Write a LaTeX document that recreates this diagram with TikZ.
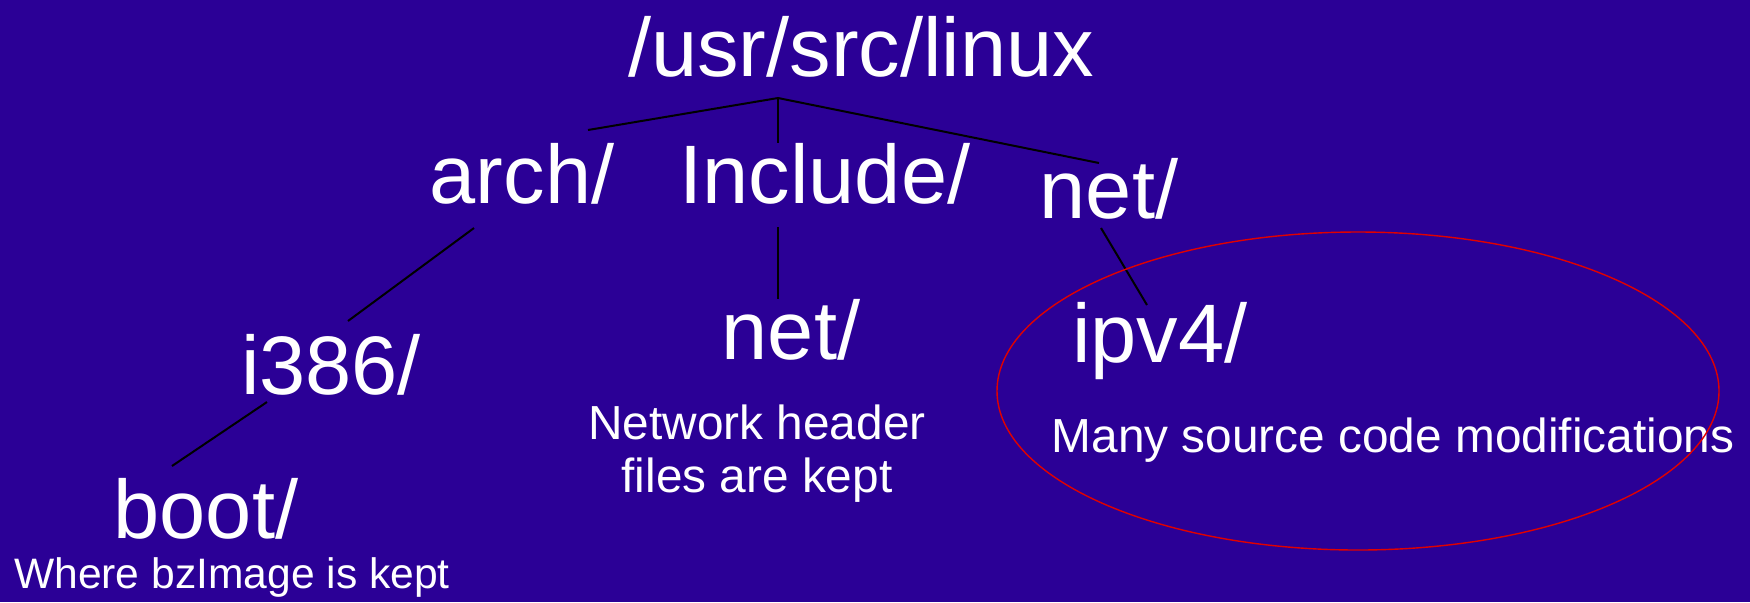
\documentclass[tikz,border=0pt]{standalone}
\usepackage{fontspec}
\setmainfont{Liberation Sans}
\definecolor{bgblue}{RGB}{43,0,150}
\definecolor{ringred}{RGB}{225,0,0}
\begin{document}
\begin{tikzpicture}[x=0.5pt,y=-0.5pt,
  big/.style={anchor=base,inner sep=0pt,text=white,font=\fontsize{41.5pt}{48pt}\selectfont},
  note/.style={anchor=base,inner sep=0pt,text=white,font=\fontsize{23.9pt}{26.5pt}\selectfont,align=center},
  smallnote/.style={anchor=base,inner sep=0pt,text=white,font=\fontsize{21.3pt}{24pt}\selectfont},
  link/.style={draw=black,line width=1pt}]
\fill[bgblue] (0,0) rectangle (1750,602);
\useasboundingbox (0,0) rectangle (1750,602);
% nodes
\node[big] (root) at (861,76) {/usr/src/linux};
\node[big] (arch) at (522,203) {arch/};
\node[big] (incl) at (825,203) {Include/};
\node[big] (net) at (1109,218) {net/};
\node[big] (i386) at (331,394) {i386/};
\node[big] (inet) at (791,359) {net/};
\node[big] (ipv4) at (1160,362) {ipv4/};
\node[big] (boot) at (206,538) {boot/};
\node[smallnote] (bootnote) at (232,588) {Where bzImage is kept};
\node[note] (netnote) at (757,492) {Network header\\ files are kept};
\node[note] (ipnote) at (1393,452) {Many source code modifications};
% connector points
\coordinate (j) at (778,98);
\coordinate (archtop) at (588,130);
\coordinate (incltop) at (778,143);
\coordinate (nettop) at (1099,163);
\coordinate (archbot) at (474,228);
\coordinate (i386top) at (348,321);
\coordinate (i386bot) at (267,402);
\coordinate (boottop) at (172,466);
\coordinate (inclbot) at (778,227);
\coordinate (inettop) at (778,299);
\coordinate (netbot) at (1101,228);
\coordinate (ipv4top) at (1147,305);
% connectors
\draw[link] (archtop) -- (j) -- (nettop);
\draw[link] (j) -- (incltop);
\draw[link] (archbot) -- (i386top);
\draw[link] (i386bot) -- (boottop);
\draw[link] (inclbot) -- (inettop);
\draw[link] (netbot) -- (ipv4top);
% ellipse
\coordinate (ringc) at (1358,391);
\draw[ringred,line width=0.7pt] (ringc) ellipse [x radius=180.5pt, y radius=79.5pt];
\end{tikzpicture}
\end{document}
